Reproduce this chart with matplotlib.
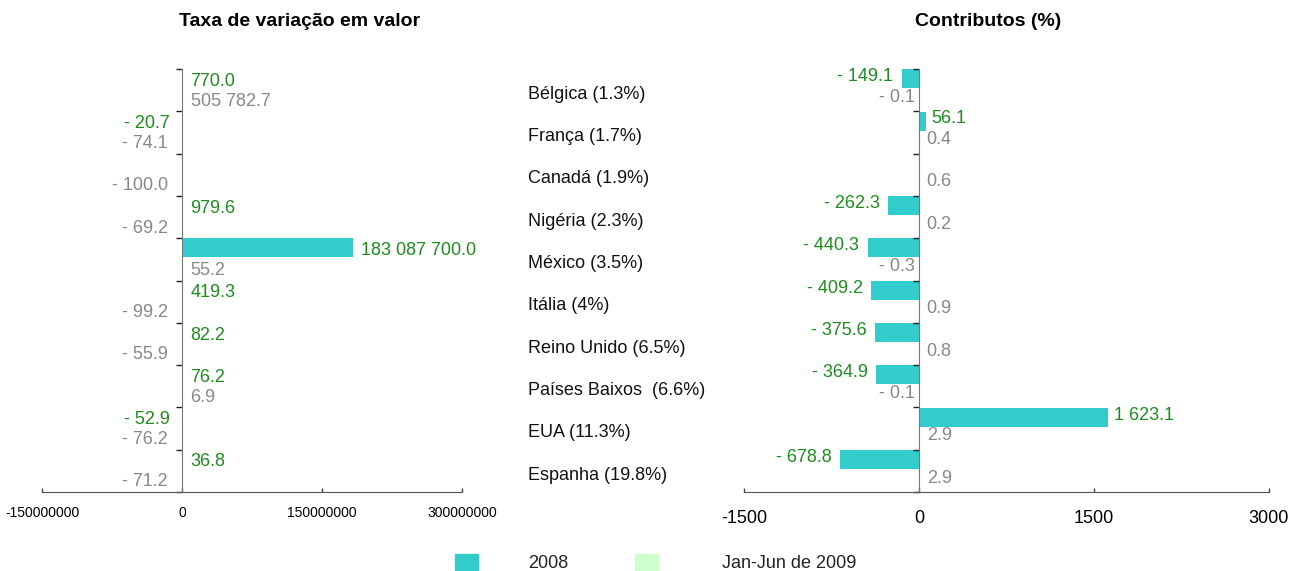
import numpy as np
import matplotlib
matplotlib.use("Agg")
import matplotlib.pyplot as plt
import matplotlib.transforms as mtransforms
from matplotlib.patches import Rectangle

plt.rcParams['font.family'] = ['Liberation Sans', 'DejaVu Sans']

countries = ["Bélgica (1.3%)", "França (1.7%)", "Canadá (1.9%)", "Nigéria (2.3%)",
             "México (3.5%)", "Itália (4%)", "Reino Unido (6.5%)",
             "Países Baixos  (6.6%)", "EUA (11.3%)", "Espanha (19.8%)"]

# Taxa de variação em valor
taxa_2008 = [770.0, -20.7, np.nan, 979.6, 183087700.0, 419.3, 82.2, 76.2, -52.9, 36.8]
taxa_2009 = [505782.7, -74.1, -100.0, -69.2, 55.2, -99.2, -55.9, 6.9, -76.2, -71.2]

# Contributos (%)
contrib_2008 = [-149.1, 56.1, np.nan, -262.3, -440.3, -409.2, -375.6, -364.9, 1623.1, -678.8]
contrib_2009 = [-0.1, 0.4, 0.6, 0.2, -0.3, 0.9, 0.8, -0.1, 2.9, 2.9]

series_names = ["2008", "Jan-Jun de 2009"]
bar_colors = ["#33CCCC", "#CCFFCC"]
label_colors = ["#1E8C1E", "#888888"]


def fmt(v):
    s = f"{abs(v):,.1f}".replace(",", " ")
    return ("- " if v < 0 else "") + s


def draw_panel(ax, s2008, s2009, xlim, ticks, ticklabels, tick_size,
               label_dy, pos_dx, neg_dx, tick_pad):
    y = np.arange(len(countries))
    offsets = [-0.27, 0.18]
    for k, vals in enumerate([s2008, s2009]):
        vals = np.array(vals, dtype=float)
        ax.barh(y + offsets[k], np.nan_to_num(vals), height=0.45,
                color=bar_colors[k], linewidth=0)
        for i, v in enumerate(vals):
            if np.isnan(v):
                continue
            if v < 0:
                dx, ha = neg_dx[k], "right"
            else:
                dx, ha = pos_dx[k], "left"
            ax.annotate(fmt(v), (v, y[i] + label_dy[k]), xytext=(dx, 0),
                        textcoords="offset points", ha=ha, va="center",
                        fontsize=13, color=label_colors[k])
    ax.set_xlim(*xlim)
    ax.set_ylim(len(countries) - 0.5, -0.5)
    ax.set_yticks(np.arange(-0.5, len(countries), 1))
    ax.set_yticklabels([])
    ax.set_xticks(ticks)
    ax.set_xticklabels(ticklabels, fontsize=tick_size)
    for side in ["top", "right"]:
        ax.spines[side].set_visible(False)
    ax.spines["left"].set_position(("data", 0))
    ax.spines["left"].set_color("#777777")
    ax.spines["bottom"].set_color("#555555")
    ax.tick_params(axis="y", direction="out", length=4, width=1, color="#222222")
    ax.tick_params(axis="x", direction="in", length=3, width=1, color="#444444",
                   pad=tick_pad)


fig = plt.figure(figsize=(12.91, 5.71), dpi=100)
ax1 = fig.add_axes([42 / 1291, 1 - 492 / 571, 420 / 1291, 423 / 571])
ax2 = fig.add_axes([744 / 1291, 1 - 492 / 571, 525 / 1291, 423 / 571])

draw_panel(ax1, taxa_2008, taxa_2009, (-150000000, 300000000),
           [-150000000, 0, 150000000, 300000000],
           ["-150000000", "0", "150000000", "300000000"], 10,
           label_dy=[-0.21, 0.26], pos_dx=[6, 6], neg_dx=[-9, -10], tick_pad=10)
draw_panel(ax2, contrib_2008, contrib_2009, (-1500, 3000),
           [-1500, 0, 1500, 3000], ["-1500", "0", "1500", "3000"], 13,
           label_dy=[-0.32, 0.17], pos_dx=[4, 5.5], neg_dx=[-6, -3], tick_pad=13)

# category labels between the panels
trans = mtransforms.blended_transform_factory(fig.transFigure, ax2.transData)
for i, name in enumerate(countries):
    ax2.text(528 / 1291, i + 0.1, name, transform=trans, ha="left", va="center",
             fontsize=13, color="#111111")

fig.text(300 / 1291, 1 - 22 / 571, "Taxa de variação em valor", ha="center",
         va="center", fontsize=14, fontweight="bold")
fig.text(988 / 1291, 1 - 22 / 571, "Contributos (%)", ha="center",
         va="center", fontsize=14, fontweight="bold")

# legend
for k, (x0, xt) in enumerate([(455, 528), (635, 722)]):
    fig.patches.append(Rectangle((x0 / 1291, 1 - 570 / 571), 23 / 1291, 16 / 571,
                                 transform=fig.transFigure, color=bar_colors[k]))
    fig.text(xt / 1291, 1 - 563 / 571, series_names[k], ha="left", va="center",
             fontsize=13, color="#222222")

fig.savefig("out.png", dpi=100)
